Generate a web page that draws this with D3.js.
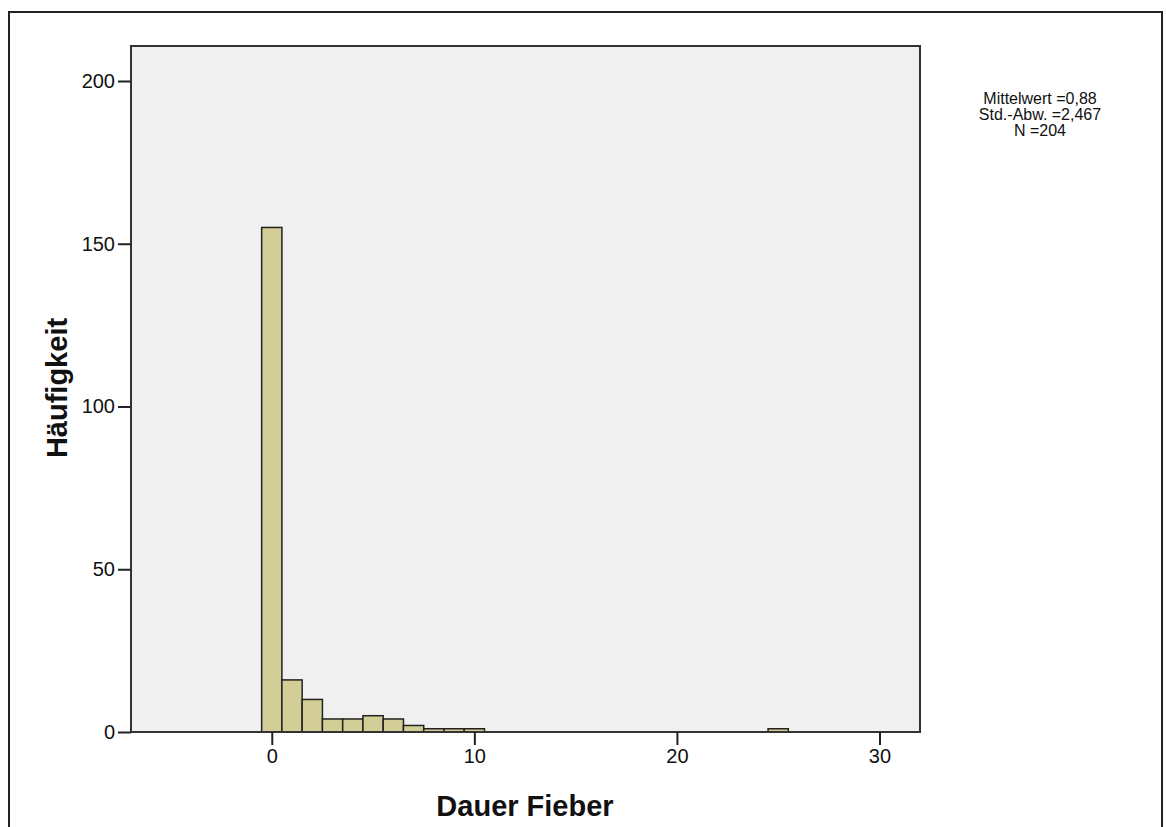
<!DOCTYPE html>
<html><head><meta charset="utf-8">
<script src="https://cdn.jsdelivr.net/npm/d3@7"></script>
<style>body{margin:0;background:#fff;} text{font-family:"Liberation Sans",Arial,sans-serif;fill:#111;}</style>
</head><body>
<svg id="c" width="1166" height="827"></svg>
<script>
const binCenters = [0,1,2,3,4,5,6,7,8,9,10,25];
const counts = [155,16,10,4,4,5,4,2,1,1,1,1];
const xTicks = [0,10,20,30];
const yTicks = [0,50,100,150,200];
const statsLines = ["Mittelwert =0,88","Std.-Abw. =2,467","N =204"];
const xLabel = "Dauer Fieber";
const yLabel = "Häufigkeit";

const svg = d3.select("#c");
const L=131, T=46, R=920, B=732;
const x = d3.scaleLinear().domain([-6.95,32.0]).range([L,R]);
const y = d3.scaleLinear().domain([0,200]).range([B,81]);

// outer frame
svg.append("path").attr("d","M9,827 V12 H1162 V827").attr("fill","none").attr("stroke","#222").attr("stroke-width",2);

svg.append("rect").attr("x",L).attr("y",T).attr("width",R-L).attr("height",B-T).attr("fill","#f0f0f0");

svg.selectAll("rect.bar").data(binCenters).enter().append("rect")
  .attr("class","bar")
  .attr("x",d=>x(d-0.5)).attr("width",d=>x(d+0.5)-x(d-0.5))
  .attr("y",(d,i)=>y(counts[i])).attr("height",(d,i)=>B-y(counts[i]))
  .attr("fill","#d3ce97").attr("stroke","#222").attr("stroke-width",1.5);

svg.append("rect").attr("x",L).attr("y",T).attr("width",R-L).attr("height",B-T).attr("fill","none").attr("stroke","#333").attr("stroke-width",2);

const yAxis = d3.axisLeft(y).tickValues(yTicks).tickSize(13).tickPadding(3);
const gy = svg.append("g").attr("transform",`translate(${L},0)`).call(yAxis);
gy.select(".domain").remove();
gy.selectAll("line").attr("stroke","#222").attr("stroke-width",2);
gy.selectAll("text").attr("font-size",20).attr("font-family","Liberation Sans, Arial, sans-serif").attr("fill","#111");

const xAxis = d3.axisBottom(x).tickValues(xTicks).tickSize(13).tickPadding(4);
const gx = svg.append("g").attr("transform",`translate(0,${B})`).call(xAxis);
gx.select(".domain").remove();
gx.selectAll("line").attr("stroke","#222").attr("stroke-width",2);
gx.selectAll("text").attr("font-size",20).attr("font-family","Liberation Sans, Arial, sans-serif").attr("fill","#111");

svg.append("text").attr("x",525).attr("y",816).attr("text-anchor","middle")
  .attr("font-size",29).attr("font-weight","bold").text(xLabel);
svg.append("text").attr("transform","translate(67,388) rotate(-90)").attr("text-anchor","middle")
  .attr("font-size",29).attr("font-weight","bold").text(yLabel);

statsLines.forEach((s,i)=>{
  svg.append("text").attr("x",1040).attr("y",104+i*16).attr("text-anchor","middle")
    .attr("font-size",16).text(s);
});
</script>
</body></html>
